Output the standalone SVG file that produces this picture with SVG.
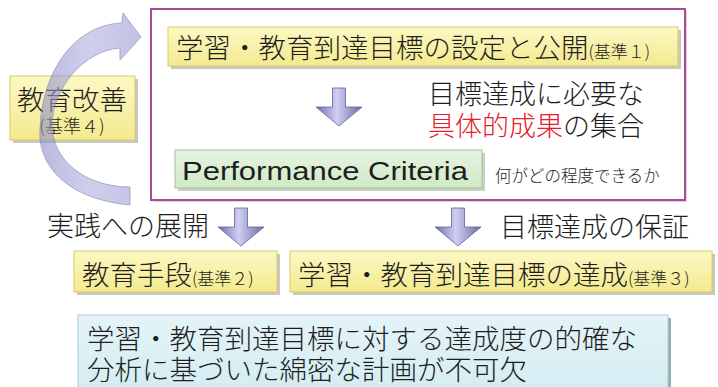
<svg xmlns="http://www.w3.org/2000/svg" width="718" height="387" viewBox="0 0 718 387">
<defs>
<linearGradient id="gy" x1="0" y1="0" x2="0" y2="1">
<stop offset="0" stop-color="#fdf8c4"/><stop offset="1" stop-color="#f3ea8e"/>
</linearGradient>
<linearGradient id="gg" x1="0" y1="0" x2="0" y2="1">
<stop offset="0" stop-color="#e6f5e0"/><stop offset="1" stop-color="#cfe9c6"/>
</linearGradient>
<linearGradient id="gb" x1="0" y1="0" x2="0" y2="1">
<stop offset="0" stop-color="#e4f4f8"/><stop offset="1" stop-color="#d4edf2"/>
</linearGradient>
<linearGradient id="ga" x1="0" y1="0" x2="1" y2="0">
<stop offset="0" stop-color="#6e6eae"/><stop offset="0.45" stop-color="#cfcff2"/><stop offset="1" stop-color="#6a6aa8"/>
</linearGradient>
<linearGradient id="gc" x1="0" y1="0" x2="1" y2="0">
<stop offset="0" stop-color="#8c8cc8"/><stop offset="0.5" stop-color="#b0b0e2"/><stop offset="1" stop-color="#9a9ad2"/>
</linearGradient>
<path id="dn" d="M -6.5 0 H 6.5 V 19 H 23 L 0 38 L -23 19 H -6.5 Z"/>
</defs>
<style>
.jp{font-family:"Noto Sans CJK JP","Noto Sans",sans-serif;fill:#1e1e1e;font-weight:300}
.lat{font-family:"Liberation Sans","Noto Sans",sans-serif;fill:#1e1e1e}
.ybox{fill:url(#gy);stroke:#d6cc6a;stroke-width:1}
.sh{fill:#9a9a8a;opacity:0.55}
.arr{fill:url(#ga);stroke:#6262a0;stroke-width:0.8}
.red{fill:#e4202a}
</style>
<rect width="718" height="387" fill="#ffffff"/>

<g id="frame">
<rect x="153" y="11" width="534" height="191" fill="#c0a8c0" opacity="0.5"/>
<rect x="151" y="9" width="534" height="191" fill="#ffffff" stroke="#a84a98" stroke-width="2"/>
</g>

<g id="improve">
<rect x="13" y="79" width="125" height="64" class="sh"/>
<rect x="10" y="76" width="125" height="64" class="ybox"/>
<text x="72" y="110" class="jp" font-size="27.5" text-anchor="middle">教育改善</text>
<text x="72" y="133" class="jp" font-size="18" text-anchor="middle">(基準４)</text>
</g>

<g id="connectors">
<path d="M 130 205 C 60 198 38 160 40 130 C 42 70 75 25 122 23 L 123 13 L 141 37 L 120 60 L 120 48 C 85 50 52 88 52 125 C 52 160 85 187 130 187 Z" fill="url(#gc)" opacity="0.6" stroke="#6e6eb4" stroke-width="1"/>
<use href="#dn" x="339" y="88" class="arr"/>
<use href="#dn" x="241" y="208" class="arr"/>
<use href="#dn" x="458" y="208" class="arr"/>
</g>

<g id="goals">
<rect x="171" y="30" width="510" height="39" class="sh"/>
<rect x="168" y="27" width="510" height="39" class="ybox"/>
<text x="176" y="58" class="jp" font-size="27.5">学習・教育到達目標の設定と公開<tspan font-size="17">(基準１)</tspan></text>
</g>

<g id="results-note">
<text x="428" y="104" class="jp" font-size="27">目標達成に必要な</text>
<text x="428" y="136" class="jp" font-size="27"><tspan class="red">具体的成果</tspan>の集合</text>
</g>

<g id="pc">
<rect x="178" y="153" width="307" height="38" fill="#9aaa94" opacity="0.55"/>
<rect x="175" y="150" width="307" height="38" fill="url(#gg)" stroke="#a2c29a" stroke-width="1"/>
<text x="182" y="180" class="lat" font-size="25" textLength="286" lengthAdjust="spacingAndGlyphs">Performance Criteria</text>
<text x="495" y="182" class="jp" font-size="16.5">何がどの程度できるか</text>
</g>

<g id="labels">
<text x="47" y="236" class="jp" font-size="27">実践への展開</text>
<text x="500" y="237" class="jp" font-size="27">目標達成の保証</text>
</g>

<g id="means">
<rect x="77" y="254" width="203" height="41" class="sh"/>
<rect x="74" y="251" width="203" height="41" class="ybox"/>
<text x="82" y="285" class="jp" font-size="27.5">教育手段<tspan font-size="17">(基準２)</tspan></text>
</g>

<g id="achieve">
<rect x="293" y="254" width="422" height="41" class="sh"/>
<rect x="290" y="251" width="422" height="41" class="ybox"/>
<text x="298" y="285" class="jp" font-size="27.5">学習・教育到達目標の達成<tspan font-size="17">(基準３)</tspan></text>
</g>

<g id="plan">
<rect x="81" y="318" width="590" height="72" fill="#6a8a90" opacity="0.7"/>
<rect x="78" y="315" width="590" height="75" fill="url(#gb)" stroke="#a4d0d8" stroke-width="1"/>
<text x="87" y="349" class="jp" font-size="27.5">学習・教育到達目標に対する達成度の的確な</text>
<text x="87" y="380" class="jp" font-size="27.5">分析に基づいた綿密な計画が不可欠</text>
</g>
</svg>
